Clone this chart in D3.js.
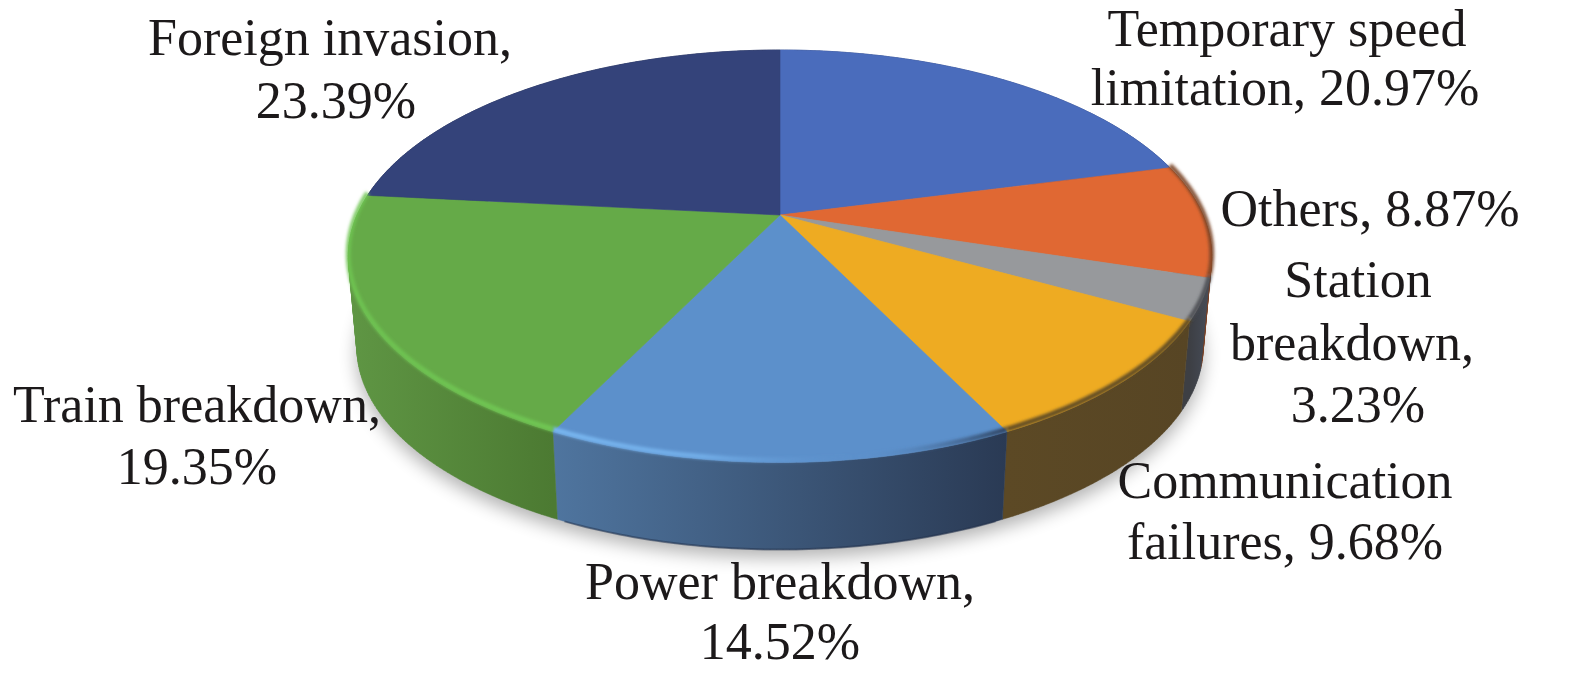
<!DOCTYPE html>
<html><head><meta charset="utf-8">
<script src="https://cdn.jsdelivr.net/npm/d3@7/dist/d3.min.js"></script>
<style>html,body{margin:0;background:#fff}svg{display:block}text{font-family:"Liberation Serif",serif;fill:#1c191a}</style>
</head><body><svg id="c" width="1575" height="676"></svg>
<script>
const categories = ["Temporary speed limitation","Others","Station breakdown","Communication failures","Power breakdown","Train breakdown","Foreign invasion"];
const shares = [20.97,8.87,3.23,9.68,14.52,19.35,23.39];
const labelLines = [["Temporary speed","limitation, 20.97%"],["Others, 8.87%"],["Station","breakdown,","3.23%"],["Communication","failures, 9.68%"],["Power breakdown,","14.52%"],["Train breakdown,","19.35%"],["Foreign invasion,","23.39%"]];

// styling / layout (not data)
const topColors = ["#4a6cbc","#e06833","#97999c","#eeab22","#5c90cb","#65aa48","#34437a"];
const wallStops = [["#2b3f70","#2b3f70"],["#7a3e20","#7a3e20"],["#3d3f44","#464c58"],["#5c4925","#574524"],["#4f759f","#2a3a54"],["#5f9644","#4c7a32"],["#1f2848","#1f2848"]];
const bevelStops = [[["#4a6cbc",0]],[["#7a4426",.9]],[["#4a4c52",.9]],[["#5c4925",.95]],[["#78b6f0",1],["#78b6f0",.75],["#5c90cb",0],["#2a3a54",.9]],[["#6fc552",.85],["#70c653",1]],[["#34437a",0]]];
const labelPos = [[[1287,46],[1285,105]],[[1370,226]],[[1358,297],[1352,360],[1358,422]],[[1285,498],[1285,559]],[[780,599],[780,659]],[[197,422],[197,484]],[[330,55],[336,118]]];
const fontSize = 52;
const cx=780, cy=215, A=423, B=198, k=0.2, depth=92, shrink=0.98, bevelLift=2.5;

const svg=d3.select("#c"), defs=svg.append("defs");
const fullFilter=(id,sd)=>defs.append("filter").attr("id",id).attr("filterUnits","userSpaceOnUse")
  .attr("x",0).attr("y",0).attr("width",1575).attr("height",676)
  .append("feGaussianBlur").attr("stdDeviation",sd);
fullFilter("sh",9); fullFilter("bv",1.4);

const project=(t)=>{const u=Math.sin(t),v=Math.cos(t),w=1+k*v;return [cx+A*u/w,cy-B*v/w];};
const lower=(t)=>{const p=project(t);return [cx+(p[0]-cx)*shrink,cy+depth+(p[1]-cy)*shrink];};
const arcs=d3.pie().sort(null).value(d=>d).startAngle(0).endAngle(2*Math.PI)(shares);
const line=d3.line();
const samples=(a,b)=>{const n=Math.max(8,Math.ceil((b-a)*80));return d3.range(n+1).map(i=>a+(b-a)*i/n);};

// soft ground shadow
svg.append("path").attr("d",line(samples(0,2*Math.PI).map(lower))+"Z")
  .attr("transform","translate(0,8)").attr("fill","#000").attr("opacity",.3).attr("filter","url(#sh)");

const gradient=(id,x0,x1,stops)=>{const g=defs.append("linearGradient").attr("id",id).attr("gradientUnits","userSpaceOnUse")
  .attr("x1",x0).attr("x2",x1).attr("y1",0).attr("y2",0);
  stops.forEach((s,i)=>{const c=Array.isArray(s)?s:[s,1];g.append("stop").attr("offset",stops.length>1?i/(stops.length-1):0).attr("stop-color",c[0]).attr("stop-opacity",c[1]);});};

// side walls: ruled quads between rim and lower edge, so silhouettes stay tangent
arcs.forEach((d,i)=>{
  const ts=samples(d.startAngle,d.endAngle);
  const ex=d3.extent(ts,t=>project(t)[0]);
  gradient("w"+i,ex[0],ex[1],wallStops[i]);
  let dStr="";
  for(let j=0;j<ts.length-1;j++){
    const q=[project(ts[j]),project(ts[j+1]),lower(ts[j+1]),lower(ts[j])];
    if(d3.polygonArea(q)<0) q.reverse();
    dStr+=line(q)+"Z";
  }
  svg.append("path").attr("d",dStr).attr("fill",`url(#w${i})`).attr("stroke",`url(#w${i})`).attr("stroke-width",.5);
});
// darker bottom edge on front walls
svg.append("path").attr("d",line(samples(Math.PI*.86,Math.PI*1.14).map(lower))).attr("fill","none").attr("stroke","#22304a").attr("stroke-width",2).attr("opacity",.5);

// top faces
arcs.forEach((d,i)=>{
  const pts=[[cx,cy]].concat(samples(d.startAngle,d.endAngle).map(t=>project(t)));
  svg.append("path").attr("d",line(pts)+"Z").attr("fill",topColors[i]).attr("stroke",topColors[i]).attr("stroke-width",.6).attr("stroke-linejoin","round");
});
// rim bevel: the rim lifted a little, blurred, so the face melts into the wall
arcs.forEach((d,i)=>{
  const pts=samples(d.startAngle,d.endAngle).map(t=>{const p=project(t);return [p[0],p[1]-bevelLift];});
  const ex=d3.extent(pts,p=>p[0]);
  gradient("b"+i,ex[0],ex[1],bevelStops[i]);
  svg.append("path").attr("d",line(pts)).attr("fill","none").attr("stroke",`url(#b${i})`).attr("stroke-width",5).attr("filter","url(#bv)");
});

// labels
labelLines.forEach((ls,i)=>ls.forEach((s,j)=>{
  svg.append("text").attr("x",labelPos[i][j][0]).attr("y",labelPos[i][j][1]).attr("text-anchor","middle").attr("font-size",fontSize).text(s);
}));
</script></body></html>
